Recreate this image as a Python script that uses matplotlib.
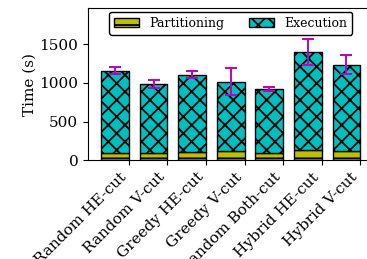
import matplotlib.pyplot as plt
import numpy as np

plt.rcParams['font.family'] = 'DejaVu Serif'
plt.rcParams['hatch.linewidth'] = 1.3

methods = ['Random HE-cut', 'Random V-cut', 'Greedy HE-cut', 'Greedy V-cut',
           'Random Both-cut', 'Hybrid HE-cut', 'Hybrid V-cut']
partitioning = [100, 95, 110, 120, 90, 135, 120]
total = [1155, 983, 1103, 1017, 922, 1397, 1232]
total_err = [43, 48, 45, 175, 22, 170, 123]

execution = [t - p for t, p in zip(total, partitioning)]

fig = plt.figure(figsize=(3.67, 2.59), dpi=100)
ax = fig.add_axes([0.24, 0.381, 0.777, 0.588])

x = np.arange(len(methods))
w = -0.72
ax.bar(x, partitioning, w, align='edge', color='y', edgecolor='black',
       hatch='-', label='Partitioning')
ax.bar(x, execution, w, align='edge', bottom=partitioning, color='c',
       edgecolor='black', hatch='xx', label='Execution')
ax.errorbar(x + w / 2, total, yerr=total_err, fmt='none', ecolor='m',
            elinewidth=1.4, capsize=4.2, capthick=1.4)

ax.set_xlim(-1.056, 6.336)
ax.set_ylim(0, 1965)
ax.set_yticks([0, 500, 1000, 1500])
ax.set_xticks(x)
ax.set_xticklabels(methods, rotation=45, ha='right', fontsize=11)
ax.tick_params(axis='y', labelsize=11)
ax.set_ylabel('Time (s)', fontsize=11, labelpad=2)
ax.legend(loc='upper center', ncol=2, fontsize=9, edgecolor='black',
          fancybox=True, framealpha=1, borderaxespad=0.3)

plt.savefig('out.png', dpi=100)
plt.close()
